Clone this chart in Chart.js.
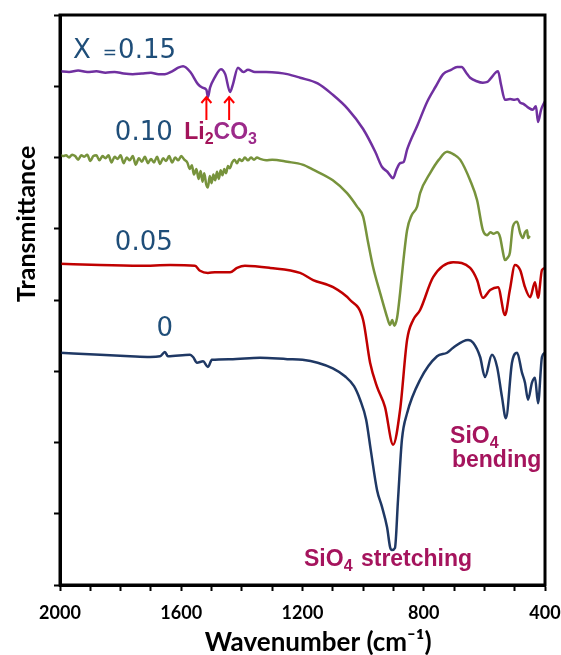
<!DOCTYPE html>
<html>
<head>
<meta charset="utf-8">
<script src="https://cdn.jsdelivr.net/npm/chart.js@4.4.1/dist/chart.umd.min.js"></script>
<style>
  html, body { margin: 0; padding: 0; background: #fff; }
  #wrap { width: 561px; height: 655px; }
</style>
</head>
<body>
<div id="wrap"><canvas id="ftir" width="561" height="655"></canvas></div>
<script>
// wavenumber (cm-1) / offset transmittance (a.u.)
const wn015 = [2000, 1970, 1940, 1910, 1880, 1850, 1820, 1790, 1760, 1730, 1700, 1675, 1654, 1630, 1610, 1594, 1570, 1545, 1530, 1517, 1512, 1505, 1490, 1469, 1455, 1439, 1430, 1413, 1395, 1380, 1357, 1320, 1280, 1250, 1208, 1150, 1100, 1050, 1000, 960, 938, 920, 901, 890, 878, 866, 855, 820, 789, 760, 736, 710, 690, 675, 660, 647, 625, 605, 590, 581, 555, 545, 532, 515, 500, 490, 482, 470, 455, 440, 430, 423, 413, 405, 400];
const t015 = [7.21, 7.20, 7.22, 7.20, 7.21, 7.19, 7.20, 7.18, 7.17, 7.18, 7.19, 7.17, 7.17, 7.21, 7.26, 7.28, 7.20, 7.03, 6.98, 6.95, 6.85, 6.98, 7.12, 7.24, 7.17, 6.92, 7.02, 7.26, 7.20, 7.23, 7.20, 7.20, 7.19, 7.17, 7.12, 7.04, 6.88, 6.68, 6.40, 6.08, 5.87, 5.80, 5.71, 5.83, 5.92, 5.94, 6.11, 6.46, 6.78, 7.00, 7.17, 7.23, 7.27, 7.27, 7.19, 7.12, 7.07, 7.05, 7.06, 7.10, 7.21, 7.02, 6.81, 6.82, 6.81, 6.82, 6.77, 6.75, 6.70, 6.67, 6.72, 6.50, 6.67, 6.75, 6.79];

const wn010 = [2000, 1990, 1980, 1970, 1960, 1950, 1940, 1930, 1920, 1910, 1900, 1890, 1880, 1870, 1860, 1850, 1840, 1830, 1820, 1810, 1800, 1790, 1780, 1770, 1760, 1750, 1740, 1730, 1720, 1710, 1700, 1690, 1680, 1670, 1660, 1650, 1640, 1630, 1620, 1610, 1600, 1590, 1580, 1572, 1565, 1558, 1550, 1543, 1536, 1530, 1524, 1518, 1512, 1506, 1500, 1494, 1488, 1482, 1476, 1470, 1464, 1458, 1452, 1446, 1440, 1432, 1424, 1416, 1408, 1400, 1390, 1380, 1370, 1360, 1350, 1340, 1320, 1300, 1250, 1200, 1165, 1100, 1053, 1020, 1000, 985, 967, 944, 930, 921, 911, 904, 897, 888, 878, 867, 855, 840, 822, 812, 779, 750, 723, 700, 680, 647, 624, 605, 591, 580, 570, 558, 548, 540, 532, 524, 516, 506, 492, 482, 473, 466, 459, 456, 450];
const t010 = [6.04, 6.02, 6.03, 6.00, 6.04, 6.02, 5.97, 6.03, 6.01, 6.04, 5.95, 6.02, 6.03, 5.96, 6.02, 5.99, 6.03, 5.93, 6.01, 5.98, 6.03, 5.92, 6.00, 5.96, 6.02, 5.90, 5.99, 5.94, 6.01, 5.92, 5.98, 5.93, 6.01, 5.91, 5.99, 5.95, 6.02, 5.93, 6.00, 5.96, 6.02, 5.97, 5.93, 5.84, 5.89, 5.76, 5.84, 5.70, 5.81, 5.66, 5.78, 5.63, 5.58, 5.74, 5.64, 5.76, 5.68, 5.80, 5.70, 5.82, 5.75, 5.84, 5.78, 5.88, 5.85, 5.93, 5.97, 5.92, 5.98, 5.95, 6.00, 5.96, 6.00, 5.97, 6.00, 5.98, 5.96, 5.97, 5.94, 5.90, 5.83, 5.68, 5.50, 5.31, 5.17, 4.84, 4.46, 4.10, 3.89, 3.76, 3.65, 3.72, 3.64, 3.75, 4.10, 4.56, 4.98, 5.19, 5.31, 5.50, 5.78, 5.97, 6.08, 6.04, 5.97, 5.68, 5.40, 4.98, 4.91, 4.95, 4.93, 4.95, 4.88, 4.70, 4.56, 4.59, 4.66, 5.03, 5.10, 4.94, 4.87, 4.95, 4.98, 4.87, 4.90];

const wn005 = [2000, 1868, 1736, 1637, 1555, 1538, 1512, 1489, 1439, 1416, 1390, 1307, 1208, 1165, 1099, 1043, 1000, 977, 954, 928, 901, 878, 855, 835, 812, 769, 703, 647, 624, 605, 581, 555, 532, 516, 499, 482, 466, 449, 433, 423, 410, 400];
const t005 = [4.51, 4.49, 4.48, 4.49, 4.48, 4.41, 4.38, 4.39, 4.39, 4.45, 4.48, 4.45, 4.38, 4.28, 4.18, 4.00, 3.72, 3.12, 2.78, 2.50, 1.97, 2.46, 3.44, 3.72, 3.86, 4.32, 4.53, 4.45, 4.28, 4.03, 4.14, 4.18, 3.79, 4.14, 4.49, 4.42, 4.18, 4.04, 4.25, 4.03, 4.42, 4.45];

const wn000 = [2000, 1868, 1769, 1703, 1670, 1654, 1644, 1571, 1561, 1548, 1528, 1512, 1499, 1439, 1340, 1250, 1200, 1150, 1100, 1060, 1030, 1010, 990, 975, 954, 938, 921, 911, 905, 895, 885, 872, 855, 812, 756, 723, 703, 654, 637, 614, 598, 575, 558, 542, 529, 509, 492, 476, 466, 456, 443, 433, 423, 410, 400];
const t000 = [3.26, 3.23, 3.21, 3.20, 3.21, 3.27, 3.21, 3.23, 3.20, 3.12, 3.14, 3.06, 3.16, 3.17, 3.19, 3.17, 3.16, 3.12, 3.04, 2.93, 2.79, 2.60, 2.32, 1.90, 1.33, 1.10, 0.81, 0.53, 0.49, 0.52, 1.19, 2.04, 2.41, 2.88, 3.21, 3.26, 3.33, 3.44, 3.40, 3.20, 2.92, 3.23, 3.06, 2.64, 2.34, 3.12, 3.26, 2.98, 2.84, 2.60, 2.84, 2.91, 2.55, 3.20, 3.26];

const xTickLabels = [2000, 1600, 1200, 800, 400];

const pairs = (xs, ys) => xs.map((x, i) => ({ x: x, y: ys[i] }));

function line(data, color) {
    return {
        data: data, borderColor: color, borderWidth: 2.5, pointRadius: 0,
        cubicInterpolationMode: 'monotone', fill: false
    };
}

// draw a string made of pieces (for sub/superscripts)
function drawRuns(ctx, x, y, runs) {
    let cx = x;
    runs.forEach(r => {
        ctx.font = r.font;
        ctx.fillStyle = r.color;
        ctx.fillText(r.t, cx, y + (r.dy || 0));
        cx += ctx.measureText(r.t).width + (r.gap || 0);
    });
}

const numFont = '26px "DejaVu Sans"';
const numColor = '#1F4E79';
const magFont = 'bold 23px "Liberation Sans"';
const subFont = 'bold 16px "Liberation Sans"';
const mag = '#A5145D';

const labels = [
    { w: 1957, v: 7.40, runs: [{ t: 'X', font: numFont, color: numColor, gap: 12 }, { t: '=', font: '17px "DejaVu Sans"', color: numColor, gap: 1 }, { t: '0.15', font: numFont, color: numColor }] },
    { w: 1819, v: 6.245, runs: [{ t: '0.10', font: numFont, color: numColor }] },
    { w: 1819, v: 4.70, runs: [{ t: '0.05', font: numFont, color: numColor }] },
    { w: 1682, v: 3.495, runs: [{ t: '0', font: numFont, color: numColor }] },
    { w: 1590, v: 6.26, runs: [{ t: 'Li', font: magFont, color: '#A3145A' }, { t: '2', font: subFont, color: '#A3145A', dy: 5 }, { t: 'CO', font: magFont, color: '#9C2A8A' }, { t: '3', font: subFont, color: '#9C2A8A', dy: 5 }] },
    { w: 1195, v: 0.267, runs: [{ t: 'SiO', font: magFont, color: mag }, { t: '4', font: subFont, color: mag, dy: 5, gap: 2 }, { t: ' stretching', font: magFont, color: mag }] },
    { w: 713, v: 1.993, runs: [{ t: 'SiO', font: magFont, color: mag }, { t: '4', font: subFont, color: mag, dy: 5 }] },
    { w: 707, v: 1.656, runs: [{ t: 'bending', font: magFont, color: mag }] }
];
const arrowsAt = [1517, 1442];

const annotate = {
    id: 'annotate',
    afterDraw(chart) {
        const { ctx, chartArea, scales: { x, y } } = chart;
        ctx.save();
        // frame
        ctx.strokeStyle = '#000';
        ctx.lineWidth = 3;
        ctx.strokeRect(chartArea.left, chartArea.top, chartArea.right - chartArea.left, chartArea.bottom - chartArea.top);

        ctx.textBaseline = 'alphabetic';
        ctx.textAlign = 'left';
        labels.forEach(l => drawRuns(ctx, x.getPixelForValue(l.w), y.getPixelForValue(l.v), l.runs));

        // red arrows pointing at Li2CO3 bands
        ctx.strokeStyle = '#FF0000';
        ctx.lineWidth = 2;
        arrowsAt.forEach(w => {
            const px = x.getPixelForValue(w);
            const y0 = y.getPixelForValue(6.526);
            const y1 = y.getPixelForValue(6.849);
            ctx.beginPath();
            ctx.moveTo(px, y0);
            ctx.lineTo(px, y1);
            ctx.moveTo(px - 5, y1 + 6);
            ctx.lineTo(px, y1);
            ctx.lineTo(px + 5, y1 + 6);
            ctx.stroke();
        });

        // y title
        ctx.translate(27, y.getPixelForValue(5.07));
        ctx.rotate(-Math.PI / 2);
        ctx.textAlign = 'center';
        ctx.textBaseline = 'middle';
        ctx.fillStyle = '#000';
        ctx.font = 'bold 25px Lato';
        ctx.fillText('Transmittance', 0, 0);
        ctx.restore();
    }
};

new Chart(document.getElementById('ftir'), {
    type: 'line',
    data: {
        datasets: [
            line(pairs(wn015, t015), '#7030A0'),
            line(pairs(wn010, t010), '#77933C'),
            line(pairs(wn005, t005), '#C00000'),
            line(pairs(wn000, t000), '#1F3864')
        ]
    },
    options: {
        responsive: false,
        animation: false,
        layout: { padding: { top: 15, right: 16, left: 0, bottom: 0 } },
        plugins: { legend: { display: false }, tooltip: { enabled: false } },
        scales: {
            x: {
                type: 'linear',
                reverse: true,
                min: 400,
                max: 2000,
                afterFit: s => { s.height = 70; s.paddingLeft = 0; s.paddingRight = 0; },
                ticks: {
                    stepSize: 100,
                    autoSkip: false,
                    maxRotation: 0,
                    padding: 11,
                    color: '#000',
                    font: { family: 'Lato', size: 18, weight: 'bold' },
                    callback: v => xTickLabels.includes(v) ? String(v) : ''
                },
                grid: { drawOnChartArea: false, tickLength: 6, tickWidth: 2, color: '#000' },
                border: { color: '#000', width: 3 },
                title: {
                    display: true,
                    // leading spaces nudge the centred title right, as in the figure
                    text: '\u00A0\u00A0\u00A0\u00A0\u00A0Wavenumber (cm\u207B\u00B9)',
                    color: '#000',
                    font: { family: 'Lato', size: 26, weight: 'bold' },
                    padding: { top: 0, bottom: -3 }
                }
            },
            y: {
                min: 0,
                max: 8,
                afterFit: s => { s.width = 60; },
                ticks: { display: false, stepSize: 1 },
                grid: { drawOnChartArea: false, tickLength: 6, tickWidth: 2, color: '#000' },
                border: { color: '#000', width: 3 }
            }
        }
    },
    plugins: [annotate]
});
</script>
</body>
</html>
